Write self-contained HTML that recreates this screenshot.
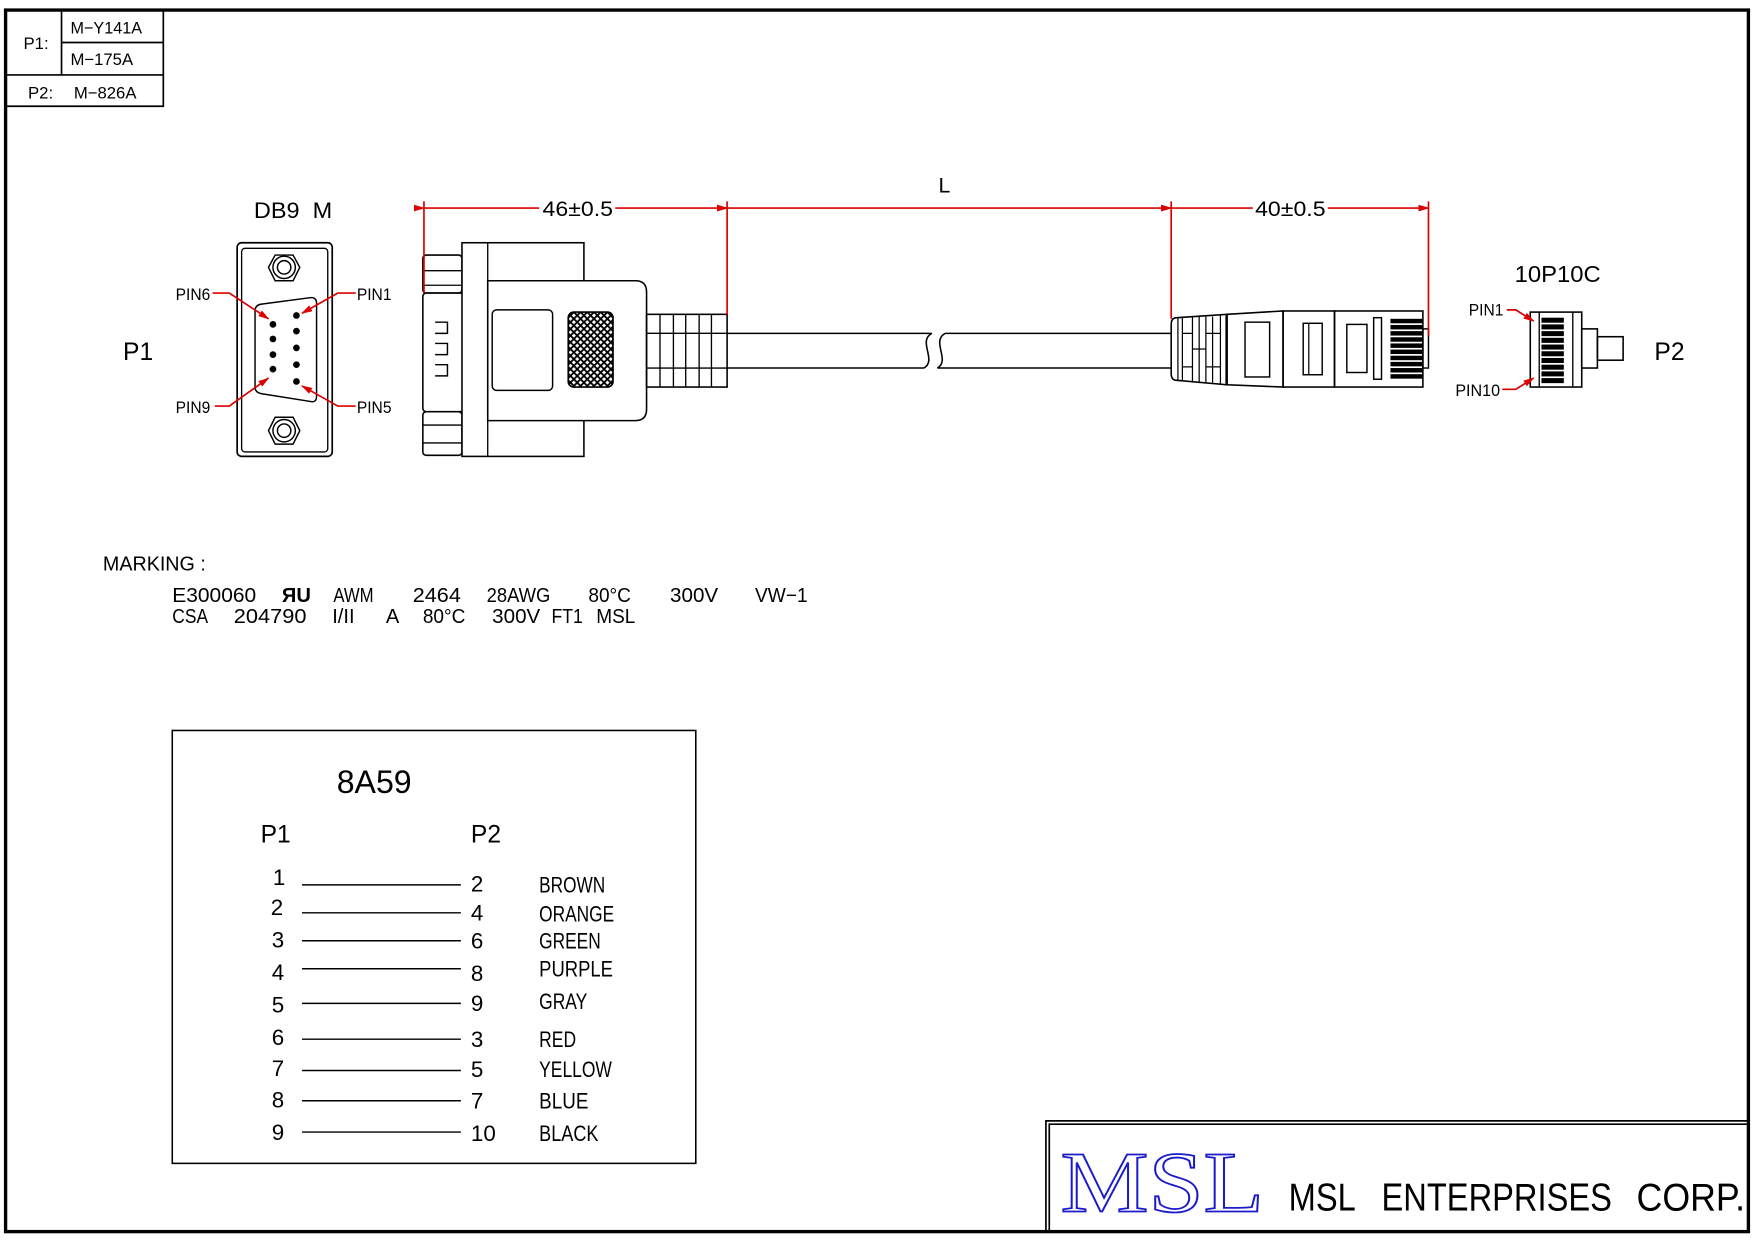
<!DOCTYPE html>
<html><head><meta charset="utf-8"><style>
html,body{margin:0;padding:0;background:#fff;}
svg{display:block;}
text{font-family:"Liberation Sans",sans-serif;fill:#000;}
text.serif{font-family:"Liberation Serif",serif;fill:#fff;stroke:#1a1acc;stroke-width:1.6;}
</style></head><body>
<svg width="1754" height="1240" viewBox="0 0 1568 1108.5" preserveAspectRatio="none" xmlns="http://www.w3.org/2000/svg">
<defs>
<pattern id="hx" width="6" height="6" patternUnits="userSpaceOnUse">
<rect width="6" height="6" fill="#fff"/>
<path d="M0,0L6,6M6,0L0,6" stroke="#000" stroke-width="1.6"/>
</pattern>
<marker id="ar" markerWidth="10" markerHeight="8" refX="9" refY="4" orient="auto" markerUnits="userSpaceOnUse"><path d="M0,1L10,4L0,7z" fill="#d00"/></marker>
</defs>
<g fill="none" stroke="#000">
<rect x="5" y="9" width="1558" height="1092" stroke-width="3"/>
<path d="M5,95H146V9M55,9V67M55,38H146M5,67H146" stroke-width="1.5"/>
<path d="M935,1101V1002H1563M938,1101V1005H1563" stroke-width="1.5"/>

<rect x="212" y="217" width="85" height="191" rx="4" stroke-width="1.5"/>
<rect x="216" y="222" width="77" height="182" rx="3" stroke-width="1.2"/>
<path d="M246,228L262,228L268,239L262,251L246,251L240,239Z M246,373L262,373L268,385L262,397L246,397L240,385Z" stroke-width="1.3"/>
<circle cx="254" cy="239" r="10" stroke-width="1.3"/><circle cx="254" cy="239" r="6" stroke-width="1.3"/>
<circle cx="254" cy="385" r="10" stroke-width="1.3"/><circle cx="254" cy="385" r="6" stroke-width="1.3"/>
<path d="M233,272L278,266Q283,266 283,271V354Q283,360 278,359L234,352Q228,351 228,346V278Q228,273 233,272Z" stroke-width="1.3"/>

<rect x="378" y="228" width="35" height="34" rx="3" stroke-width="1.4"/>
<path d="M378,242H413M378,255H413" stroke-width="1.2"/>
<rect x="378" y="368" width="35" height="39" rx="3" stroke-width="1.4"/>
<path d="M378,380H413M378,396H413" stroke-width="1.2"/>
<rect x="378" y="262" width="58" height="106" rx="3" fill="#fff" stroke-width="1.4"/>
<path d="M389,288H400V298H389M389,307H400V317H389M389,326H400V336H389" stroke-width="1.3"/>
<rect x="413" y="217" width="109" height="191" fill="#fff" stroke-width="1.4"/>
<path d="M436,217V408" stroke-width="1.2"/>
<path d="M436,251H568Q578,251 578,261V366Q578,376 568,376H436Z" fill="#fff" stroke-width="1.4"/>
<rect x="440" y="277" width="54" height="72" rx="4" stroke-width="1.3"/>
<rect x="508" y="279" width="40" height="67" rx="5" fill="url(#hx)" stroke-width="1.5"/>
<rect x="578" y="281" width="72" height="65" stroke-width="1.4"/>
<path d="M590,281V346M602,281V346M613,281V346M625,281V346M636,281V346M578,298H650M578,329H650" stroke-width="1.2"/>
<path d="M650,298H833M650,329H826M845,298H1048M838,329H1048" stroke-width="1.4"/>
<path d="M833,298C820,305 838,322 826,329M845,298C832,305 850,322 838,329" stroke-width="1.4"/>

<path d="M1052,284L1097,281V344L1052,340Q1047,340 1047,334V290Q1047,284 1052,284Z" fill="#fff" stroke-width="1.4"/>
<path d="M1053,284V340M1057,284V340M1066,283V342M1072,283V342M1078,283V342M1084,283V342M1091,282V343M1096,282V343" stroke-width="1.1"/>
<path d="M1057,298H1066M1078,298H1091M1057,328H1066M1078,328H1091M1066,312H1078" stroke-width="1.1"/>
<path d="M1097,281L1147,278V346L1097,344Z" fill="#fff" stroke-width="1.4"/>
<rect x="1113" y="288" width="22" height="49" stroke-width="1.3"/>
<rect x="1147" y="278" width="46" height="68" stroke-width="1.4"/>
<rect x="1165" y="289" width="17" height="46" stroke-width="1.3"/><path d="M1170,289V335" stroke-width="1.1"/>
<rect x="1193" y="278" width="79" height="68" stroke-width="1.4"/>
<rect x="1204" y="290" width="18" height="43" stroke-width="1.3"/>
<rect x="1228" y="284" width="7" height="55" stroke-width="1.3"/>
<rect x="1272" y="294" width="5" height="35" stroke-width="1.3"/>
<g stroke="none" fill="#000">
<rect x="1243" y="285" width="29" height="4"/><rect x="1243" y="290.5" width="29" height="4"/><rect x="1243" y="296" width="29" height="4"/><rect x="1243" y="301.5" width="29" height="4"/><rect x="1243" y="307" width="29" height="4"/><rect x="1243" y="312.5" width="29" height="4"/><rect x="1243" y="318" width="29" height="4"/><rect x="1243" y="323.5" width="29" height="4"/><rect x="1243" y="329" width="29" height="4"/><rect x="1243" y="334.5" width="29" height="4"/>
</g>

<rect x="1368" y="279" width="46" height="67" stroke-width="1.4"/>
<path d="M1376,279V346M1406,279V346" stroke-width="1.2"/>
<g stroke="none" fill="#000">
<rect x="1378" y="284" width="20" height="4.5"/><rect x="1378" y="290" width="20" height="4.5"/><rect x="1378" y="296" width="20" height="4.5"/><rect x="1378" y="302" width="20" height="4.5"/><rect x="1378" y="308" width="20" height="4.5"/><rect x="1378" y="314" width="20" height="4.5"/><rect x="1378" y="320" width="20" height="4.5"/><rect x="1378" y="326" width="20" height="4.5"/><rect x="1378" y="332" width="20" height="4.5"/><rect x="1378" y="338" width="20" height="4.5"/>
</g>
<rect x="1414" y="294" width="14" height="35" stroke-width="1.4"/>
<rect x="1428" y="301" width="23" height="21" stroke-width="1.4"/>

<rect x="154" y="653" width="468" height="387" stroke-width="1.4"/>
<path d="M270,791H412M270,816H412M270,841H412M270,866H412M270,897H412M270,929H412M270,957H412M270,984H412M270,1012H412" stroke-width="1.3"/>
</g>

<g stroke="#d00" fill="none" stroke-width="1.5">
<path d="M379,180V262M650,180V281M1047,180V285M1277,180V300"/>
<path d="M379,186H482" marker-start="url(#ar)"/>
<path d="M550,186H650" marker-end="url(#ar)"/>
<path d="M650,186H1047" marker-start="url(#ar)" marker-end="url(#ar)"/>
<path d="M1047,186H1120" marker-start="url(#ar)"/>
<path d="M1187,186H1277" marker-end="url(#ar)"/>
<path d="M190,262H205L240,285" marker-end="url(#ar)"/>
<path d="M318,262H302L270,280" marker-end="url(#ar)"/>
<path d="M192,363H205L240,338" marker-end="url(#ar)"/>
<path d="M318,363H302L270,345" marker-end="url(#ar)"/>
<path d="M1347,277H1355L1371,287" marker-end="url(#ar)"/>
<path d="M1343,348H1355L1371,338" marker-end="url(#ar)"/>
</g>
<g fill="#000" stroke="none">
<circle cx="244" cy="290" r="3"/><circle cx="244" cy="303" r="3"/><circle cx="244" cy="317" r="3"/><circle cx="244" cy="330" r="3"/>
<circle cx="265" cy="282" r="3"/><circle cx="265" cy="296" r="3"/><circle cx="265" cy="311" r="3"/><circle cx="265" cy="326" r="3"/><circle cx="265" cy="341" r="3"/>
</g>

<g font-size="15">
<text x="21" y="44">P1:</text><text x="63" y="30" textLength="64" lengthAdjust="spacingAndGlyphs">M−Y141A</text><text x="63" y="58" textLength="56" lengthAdjust="spacingAndGlyphs">M−175A</text>
<text x="25" y="88">P2:</text><text x="66" y="88" textLength="56" lengthAdjust="spacingAndGlyphs">M−826A</text>
</g>
<text x="227" y="195" font-size="20" textLength="70" lengthAdjust="spacingAndGlyphs">DB9 &#160;M</text>
<text x="110" y="322" font-size="22">P1</text>
<g font-size="15"><text x="157" y="268" textLength="31" lengthAdjust="spacingAndGlyphs">PIN6</text><text x="319" y="268" textLength="31" lengthAdjust="spacingAndGlyphs">PIN1</text><text x="157" y="369" textLength="31" lengthAdjust="spacingAndGlyphs">PIN9</text><text x="319" y="369" textLength="31" lengthAdjust="spacingAndGlyphs">PIN5</text>
<text x="1313" y="282" textLength="31" lengthAdjust="spacingAndGlyphs">PIN1</text><text x="1301" y="354" textLength="40" lengthAdjust="spacingAndGlyphs">PIN10</text></g>
<g font-size="19"><text x="485" y="193" textLength="63" lengthAdjust="spacingAndGlyphs">46±0.5</text><text x="839" y="172">L</text><text x="1122" y="193" textLength="63" lengthAdjust="spacingAndGlyphs">40±0.5</text></g>
<text x="1354" y="252" font-size="21" textLength="77" lengthAdjust="spacingAndGlyphs">10P10C</text>
<text x="1479" y="322" font-size="22">P2</text>

<g font-size="18">
<text x="92" y="510" textLength="92" lengthAdjust="spacingAndGlyphs">MARKING :</text>
<text x="154" y="538" textLength="75" lengthAdjust="spacingAndGlyphs">E300060</text><text x="252" y="538" font-weight="bold">ЯU</text><text x="298" y="538" textLength="36" lengthAdjust="spacingAndGlyphs">AWM</text><text x="369" y="538" textLength="43" lengthAdjust="spacingAndGlyphs">2464</text><text x="435" y="538" textLength="57" lengthAdjust="spacingAndGlyphs">28AWG</text><text x="526" y="538" textLength="38" lengthAdjust="spacingAndGlyphs">80°C</text><text x="599" y="538" textLength="43" lengthAdjust="spacingAndGlyphs">300V</text><text x="675" y="538" textLength="47" lengthAdjust="spacingAndGlyphs">VW−1</text>
<text x="154" y="557" textLength="32" lengthAdjust="spacingAndGlyphs">CSA</text><text x="209" y="557" textLength="65" lengthAdjust="spacingAndGlyphs">204790</text><text x="297" y="557">I/II</text><text x="345" y="557">A</text><text x="378" y="557" textLength="38" lengthAdjust="spacingAndGlyphs">80°C</text><text x="440" y="557" textLength="43" lengthAdjust="spacingAndGlyphs">300V</text><text x="493" y="557" textLength="28" lengthAdjust="spacingAndGlyphs">FT1</text><text x="533" y="557" textLength="35" lengthAdjust="spacingAndGlyphs">MSL</text>
</g>

<text x="301" y="709" font-size="29" textLength="67" lengthAdjust="spacingAndGlyphs">8A59</text>
<text x="233" y="753" font-size="22">P1</text><text x="421" y="753" font-size="22">P2</text>
<g font-size="20">
<text x="244" y="791">1</text><text x="242" y="818">2</text><text x="243" y="847">3</text><text x="243" y="876">4</text><text x="243" y="905">5</text><text x="243" y="934">6</text><text x="243" y="962">7</text><text x="243" y="990">8</text><text x="243" y="1019">9</text>
<text x="421" y="797">2</text><text x="421" y="823">4</text><text x="421" y="848">6</text><text x="421" y="877">8</text><text x="421" y="904">9</text><text x="421" y="936">3</text><text x="421" y="963">5</text><text x="421" y="991">7</text><text x="421" y="1020">10</text>
<g lengthAdjust="spacingAndGlyphs">
<text x="482" y="798" textLength="59" lengthAdjust="spacingAndGlyphs">BROWN</text><text x="482" y="824" textLength="67" lengthAdjust="spacingAndGlyphs">ORANGE</text><text x="482" y="848" textLength="55" lengthAdjust="spacingAndGlyphs">GREEN</text><text x="482" y="873" textLength="66" lengthAdjust="spacingAndGlyphs">PURPLE</text><text x="482" y="902" textLength="43" lengthAdjust="spacingAndGlyphs">GRAY</text><text x="482" y="936" textLength="33" lengthAdjust="spacingAndGlyphs">RED</text><text x="482" y="963" textLength="65" lengthAdjust="spacingAndGlyphs">YELLOW</text><text x="482" y="991" textLength="44" lengthAdjust="spacingAndGlyphs">BLUE</text><text x="482" y="1020" textLength="53" lengthAdjust="spacingAndGlyphs">BLACK</text>
</g>
</g>

<text class="serif" x="948" y="1083" font-size="78" textLength="182" lengthAdjust="spacingAndGlyphs">MSL</text>
<g font-size="35">
<text x="1152" y="1082" textLength="60" lengthAdjust="spacingAndGlyphs">MSL</text>
<text x="1235" y="1082" textLength="206" lengthAdjust="spacingAndGlyphs">ENTERPRISES</text>
<text x="1463" y="1082" textLength="97" lengthAdjust="spacingAndGlyphs">CORP.</text>
</g>
</svg>
</body></html>
